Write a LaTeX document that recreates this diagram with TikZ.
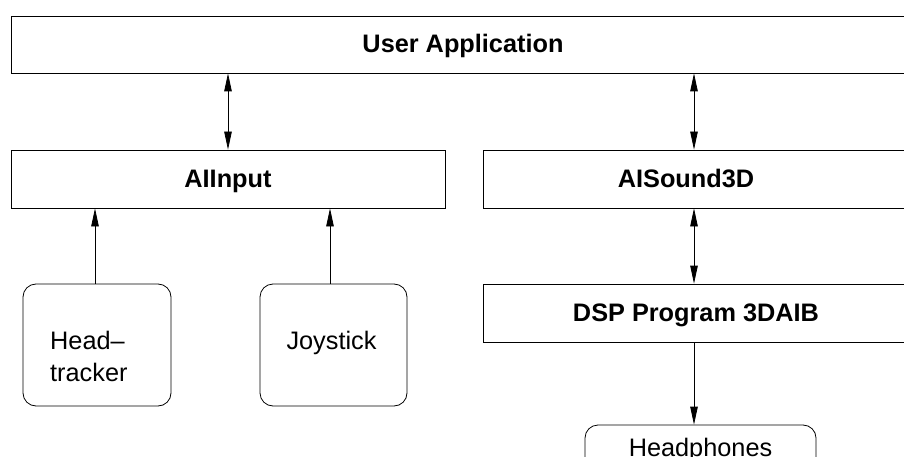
\documentclass[tikz,border=0pt]{standalone}
\usepackage{fontspec}
\setmainfont{Liberation Sans}
\usetikzlibrary{arrows.meta}
\begin{document}
\begin{tikzpicture}[x=1pt,y=-1pt,
  every node/.style={font=\fontsize{25.3pt}{32pt}\selectfont},
  layer/.style={draw, line width=0.8pt, rectangle, inner sep=0pt, text height=16pt, text depth=0pt,
                font=\fontsize{25.3pt}{32pt}\selectfont\bfseries},
  device/.style={draw, line width=0.8pt, rectangle, rounded corners=13pt, inner sep=0pt},
  txt/.style={inner sep=0pt},
  link/.style={line width=0.8pt, -{Triangle[length=18pt,width=7.5pt]}},
  duplex/.style={line width=0.8pt, {Triangle[length=18pt,width=7.5pt]}-{Triangle[length=18pt,width=7.5pt]}}]
\useasboundingbox (0,0) rectangle (904,457);
\begin{scope}
\clip (0,0) rectangle (904,457);
% software layers
\node[layer, minimum width=904pt, minimum height=57pt] (app) at (463,44.5) {User Application};
\node[layer, minimum width=434pt, minimum height=58pt] (inp) at (228,179) {AIInput};
\node[layer, minimum width=426pt, minimum height=58pt,
      label={[txt, text height=16pt, text depth=0pt, font=\fontsize{25.3pt}{32pt}\selectfont\bfseries, xshift=-10pt]center:AISound3D}] (snd) at (696,179) {};
\node[layer, minimum width=426pt, minimum height=58pt] (dsp) at (696,313) {DSP Program 3DAIB};
% devices
\node[device, minimum width=148pt, minimum height=122pt] (head) at (97,345) {};
\node[device, minimum width=147pt, minimum height=122pt] (joy) at (333.5,345) {};
\node[device, minimum width=231pt, minimum height=49pt] (phones) at (700.5,449.5) {Headphones};
\node[txt, anchor=base west] (headA) at (50,349) {Head–};
\node[txt, anchor=base west] (headB) at (50,381) {tracker};
\node[txt, anchor=base] (joyT) at (331.5,349) {Joystick};
% connections
\draw[duplex] (inp.north) -- (inp.north |- app.south);
\draw[duplex] ([xshift=-2pt]snd.north) -- ([xshift=-2pt]snd.north |- app.south);
\draw[duplex] ([xshift=-2pt]dsp.north) -- ([xshift=-2pt]dsp.north |- snd.south);
\draw[link] ([xshift=-2pt]dsp.south) -- ([xshift=-2pt]dsp.south |- phones.north);
\draw[link] ([xshift=-2pt]head.north) -- ([xshift=-2pt]head.north |- inp.south);
\draw[link] ([xshift=-3.5pt]joy.north) -- ([xshift=-3.5pt]joy.north |- inp.south);
\end{scope}
\end{tikzpicture}
\end{document}
